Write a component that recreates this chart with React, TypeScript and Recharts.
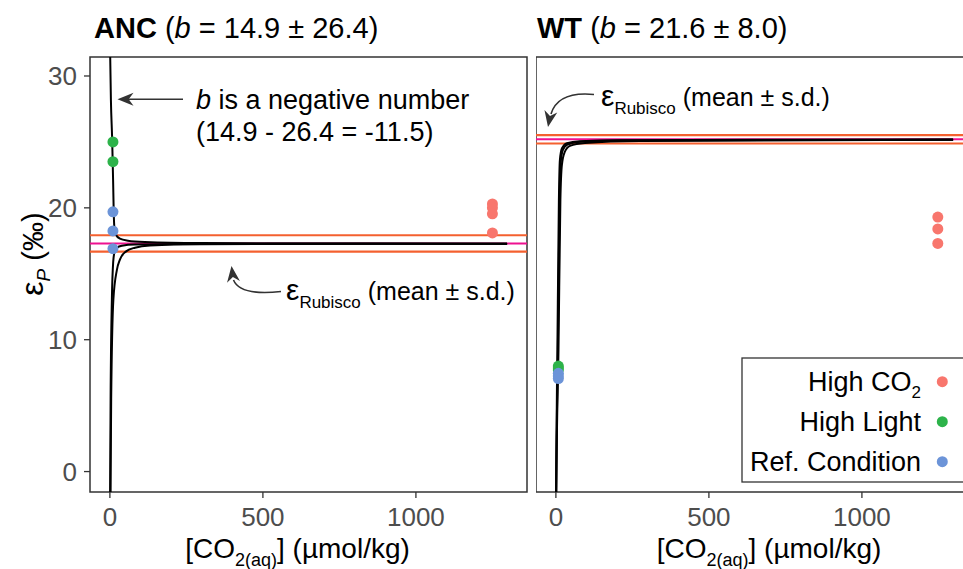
import React from "react";
import {
    ComposedChart,
    XAxis,
    YAxis,
    Line,
    Scatter,
    ReferenceLine,
    ReferenceArea,
} from "recharts";

const FONT = '"Liberation Sans", Arial, Helvetica, sans-serif';

const X_TICKS = [0, 500, 1000];
const Y_TICKS = [0, 10, 20, 30];
const X_DOMAIN: [number, number] = [-65, 1363];
const Y_DOMAIN: [number, number] = [-1.55, 31.44];

const CONDITIONS = ["High CO2", "High Light", "Ref. Condition"];
const COLORS = ["#F8766D", "#2DB34A", "#6C94D8"];

// ANC measurements: [CO2(aq)] and εP
const ancHighCO2X = [1250, 1250, 1250, 1250];
const ancHighCO2Y = [20.3, 20.0, 19.55, 18.1];
const ancHighLightX = [10, 10];
const ancHighLightY = [25.0, 23.5];
const ancRefX = [10, 10, 10];
const ancRefY = [19.7, 18.25, 16.9];

// WT measurements
const wtHighCO2X = [1248, 1248, 1248];
const wtHighCO2Y = [19.3, 18.4, 17.3];
const wtHighLightX = [8, 8, 8];
const wtHighLightY = [8.0, 7.85, 7.7];
const wtRefX = [8, 8, 8];
const wtRefY = [7.45, 7.25, 7.05];

// model curves for b = mean, mean + s.d., mean - s.d.
const ancLowBX = [0.3, 3.3, 7.5, 10.5, 12.4, 14.7, 19.6, 32.7, 58.8, 114, 294, 1298];
const ancLowBY = [32.5, 28.2, 25.15, 22.1, 19.8, 18.5, 17.96, 17.66, 17.51, 17.41, 17.33, 17.28];
const ancMidBX = [0.5, 0.8, 2.3, 6.5, 10.8, 14.7, 22.9, 39, 82, 294, 1298];
const ancMidBY = [-3, -1.5, 5.5, 13.05, 15.9, 16.6, 16.98, 17.13, 17.22, 17.26, 17.28];
const ancHighBX = [1.6, 2.2, 4.2, 11.4, 22.9, 32.7, 52, 82, 131, 294, 1298];
const ancHighBY = [-4, -1.5, 5.5, 13.05, 15.3, 16.07, 16.68, 16.98, 17.15, 17.24, 17.28];

const wtLowBX = [0.3, 0.6, 4.9, 9.8, 13, 19.6, 36, 78, 209, 1298];
const wtLowBY = [-3, -1.5, 9.27, 20.6, 23.6, 24.5, 24.9, 25.05, 25.13, 25.18];
const wtMidBX = [0.6, 1.0, 6.5, 12, 16.3, 23, 36, 72, 209, 1298];
const wtMidBY = [-3, -1.5, 9.27, 20.6, 23.6, 24.4, 24.77, 25.0, 25.1, 25.17];
const wtHighBX = [0.9, 1.3, 8.5, 14.7, 19.6, 29, 46, 95, 275, 1298];
const wtHighBY = [-3, -1.5, 9.27, 20.6, 23.26, 24.24, 24.7, 24.92, 25.07, 25.16];

// εRubisco mean and s.d.
const ancRubisco = [17.3, 0.62];
const wtRubisco = [25.2, 0.32];

const zip = (xs: number[], ys: number[]) => xs.map((x, i) => ({ x, y: ys[i] }));

const dot = (color: string) => (p: any) => (
    <circle cx={p.cx} cy={p.cy} r={5.5} fill={color} />
);

type PanelProps = {
    width: number;
    left: number;
    right: number;
    showY: boolean;
    curves: { x: number }[][];
    groups: { x: number; y: number }[][];
    rubisco: number[];
};

function Panel({ width, left, right, showY, curves, groups, rubisco }: PanelProps) {
    const [mean, sd] = rubisco;
    return (
        <div style={{ position: "absolute", left, top: 0 }}>
            <ComposedChart
                width={width}
                height={569}
                margin={{ top: 57, right, bottom: 0, left: 0 }}
            >
                <XAxis
                    dataKey="x"
                    type="number"
                    domain={X_DOMAIN}
                    ticks={X_TICKS}
                    allowDataOverflow
                    axisLine={false}
                    tickLine={{ stroke: "#333", strokeWidth: 1.3 }}
                    tickSize={6}
                    tickMargin={10}
                    height={77}
                    tick={{ fill: "#4D4D4D", fontSize: 26, fontFamily: FONT }}
                />
                <YAxis
                    dataKey="y"
                    type="number"
                    domain={Y_DOMAIN}
                    ticks={Y_TICKS}
                    allowDataOverflow
                    hide={!showY}
                    width={90}
                    axisLine={false}
                    tickLine={{ stroke: "#333", strokeWidth: 1.3 }}
                    tickSize={6}
                    tickMargin={7}
                    tick={{ fill: "#4D4D4D", fontSize: 26, fontFamily: FONT }}
                />
                <ReferenceLine y={mean} stroke="#EE1190" strokeWidth={2} />
                <ReferenceLine y={mean + sd} stroke="#F4602F" strokeWidth={2.2} />
                <ReferenceLine y={mean - sd} stroke="#F4602F" strokeWidth={2.2} />
                {curves.map((c, i) => (
                    <Line
                        key={i}
                        data={c}
                        dataKey="y"
                        type="monotone"
                        stroke="#000"
                        strokeWidth={2}
                        dot={false}
                        activeDot={false}
                        isAnimationActive={false}
                    />
                ))}
                {groups.map((g, i) => (
                    <Scatter
                        key={i}
                        data={g}
                        fill={COLORS[i]}
                        shape={dot(COLORS[i])}
                        isAnimationActive={false}
                    />
                ))}
                <ReferenceArea
                    x1={X_DOMAIN[0]}
                    x2={X_DOMAIN[1]}
                    y1={Y_DOMAIN[0]}
                    y2={Y_DOMAIN[1]}
                    fill="none"
                    fillOpacity={0}
                    stroke="#333"
                    strokeWidth={1.5}
                />
            </ComposedChart>
        </div>
    );
}

// stealth-style arrow head, tip at (x, y), pointing away from (fx, fy)
function ArrowHead({ x, y, fx, fy }: { x: number; y: number; fx: number; fy: number }) {
    const a = Math.atan2(y - fy, x - fx);
    const len = 16;
    const half = 6.5;
    const bx = x - len * Math.cos(a);
    const by = y - len * Math.sin(a);
    const nx = x - len * 0.7 * Math.cos(a);
    const ny = y - len * 0.7 * Math.sin(a);
    const px = -Math.sin(a) * half;
    const py = Math.cos(a) * half;
    return (
        <path
            d={`M${x},${y} L${bx + px},${by + py} L${nx},${ny} L${bx - px},${by - py} Z`}
            fill="#333"
        />
    );
}

function Overlay() {
    const pre = { whiteSpace: "pre" as const };
    return (
        <svg
            width={963}
            height={569}
            style={{ position: "absolute", left: 0, top: 0, pointerEvents: "none" }}
            fontFamily={FONT}
        >
            {/* panel titles */}
            <text x={94} y={38} fontSize={29} style={pre}>
                <tspan fontWeight="bold">ANC</tspan>
                <tspan> (</tspan>
                <tspan fontStyle="italic">b</tspan>
                <tspan> = 14.9 ± 26.4)</tspan>
            </text>
            <text x={537} y={38} fontSize={29} style={pre}>
                <tspan fontWeight="bold">WT</tspan>
                <tspan> (</tspan>
                <tspan fontStyle="italic">b</tspan>
                <tspan> = 21.6 ± 8.0)</tspan>
            </text>

            {/* y axis title */}
            <text
                transform="rotate(-90)"
                x={-254}
                y={43}
                fontSize={29}
                textAnchor="middle"
                style={pre}
            >
                <tspan fontSize={32}>ε</tspan>
                <tspan fontSize={19} fontStyle="italic" dy={7}>P</tspan>
                <tspan dy={-7}> (‰)</tspan>
            </text>

            {/* x axis titles */}
            {[297.5, 769].map((cx) => (
                <text key={cx} x={cx} y={558} fontSize={28} textAnchor="middle" style={pre}>
                    <tspan>[CO</tspan>
                    <tspan fontSize={18} dy={8}>2(aq)</tspan>
                    <tspan dy={-8}>] (µmol/kg)</tspan>
                </text>
            ))}

            {/* note on the negative b curve */}
            <line x1={183} y1={99.3} x2={128} y2={99.3} stroke="#333" strokeWidth={1.6} />
            <ArrowHead x={117.5} y={99.3} fx={183} fy={99.3} />
            <text x={196} y={109} fontSize={27} style={pre}>
                <tspan fontStyle="italic">b</tspan>
                <tspan> is a negative number</tspan>
            </text>
            <text x={196} y={141} fontSize={27} style={pre}>
                (14.9 - 26.4 = -11.5)
            </text>

            {/* εRubisco labels */}
            <path d="M281,291.5 Q240,296 233.5,280" fill="none" stroke="#333" strokeWidth={1.6} />
            <ArrowHead x={231.5} y={266} fx={234.5} fy={290} />
            <text x={286} y={300} fontSize={25} style={pre}>
                <tspan fontSize={30}>ε</tspan>
                <tspan fontSize={17} dy={8}>Rubisco</tspan>
                <tspan dy={-8}> (mean ± s.d.)</tspan>
            </text>

            <path d="M594,94.5 Q558,91 551,114" fill="none" stroke="#333" strokeWidth={1.6} />
            <ArrowHead x={548} y={127} fx={552} fy={105} />
            <text x={601} y={106} fontSize={25} style={pre}>
                <tspan fontSize={30}>ε</tspan>
                <tspan fontSize={17} dy={8}>Rubisco</tspan>
                <tspan dy={-8}> (mean ± s.d.)</tspan>
            </text>

            {/* legend */}
            <rect x={742} y={358} width={240} height={124} fill="#fff" stroke="#333" strokeWidth={1.3} />
            {CONDITIONS.map((name, i) => {
                const cy = 381.7 + i * 40;
                const sub = name.endsWith("CO2");
                return (
                    <g key={name}>
                        <text x={921} y={cy + 9.5} fontSize={27} textAnchor="end" style={pre}>
                            {sub ? (
                                <>
                                    <tspan>{name.slice(0, -1)}</tspan>
                                    <tspan fontSize={17} dy={7}>2</tspan>
                                </>
                            ) : (
                                name
                            )}
                        </text>
                        <circle cx={942.3} cy={cy} r={5.5} fill={COLORS[i]} />
                    </g>
                );
            })}
        </svg>
    );
}

export default function App() {
    const ancCurves = [zip(ancLowBX, ancLowBY), zip(ancMidBX, ancMidBY), zip(ancHighBX, ancHighBY)];
    const wtCurves = [zip(wtLowBX, wtLowBY), zip(wtMidBX, wtMidBY), zip(wtHighBX, wtHighBY)];
    const ancGroups = [
        zip(ancHighCO2X, ancHighCO2Y),
        zip(ancHighLightX, ancHighLightY),
        zip(ancRefX, ancRefY),
    ];
    const wtGroups = [
        zip(wtHighCO2X, wtHighCO2Y),
        zip(wtHighLightX, wtHighLightY),
        zip(wtRefX, wtRefY),
    ];

    return (
        <div
            style={{
                position: "absolute",
                left: 0,
                top: 0,
                width: 963,
                height: 569,
                overflow: "hidden",
                background: "#fff",
                fontFamily: FONT,
            }}
        >
            <Panel width={540} left={0} right={13} showY curves={ancCurves} groups={ancGroups} rubisco={ancRubisco} />
            <Panel width={437} left={536} right={0} showY={false} curves={wtCurves} groups={wtGroups} rubisco={wtRubisco} />
            <Overlay />
        </div>
    );
}
